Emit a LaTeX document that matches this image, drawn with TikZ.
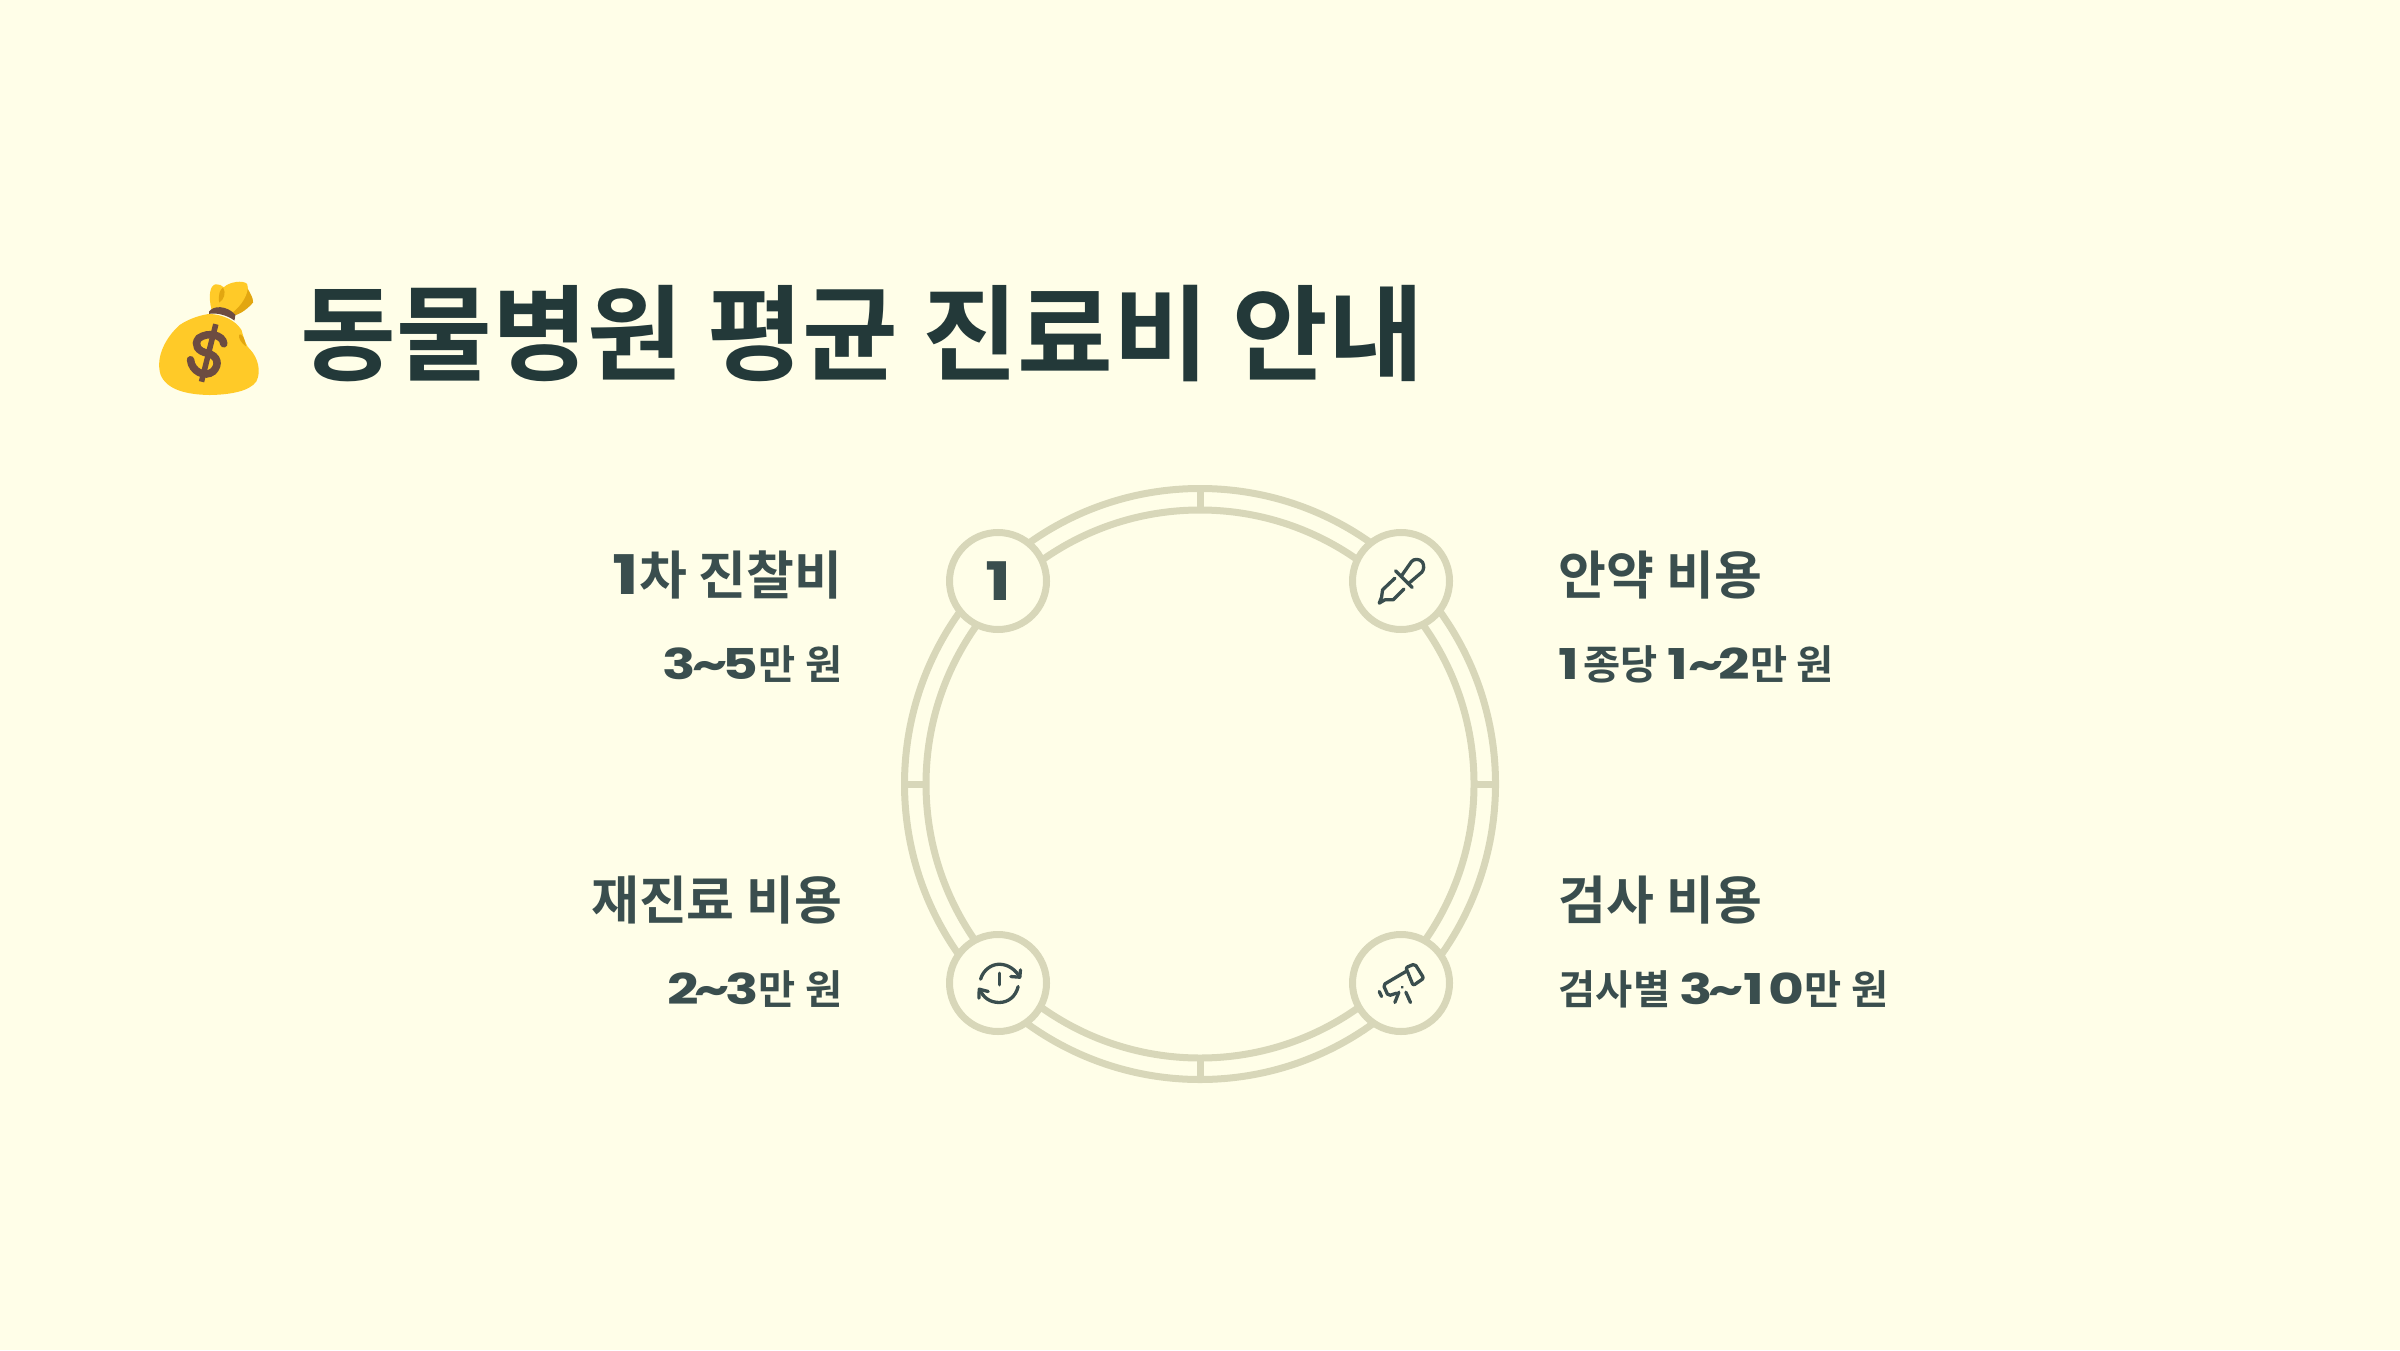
\documentclass[tikz,border=0pt]{standalone}
\usepackage{fontspec}
\setmainfont{Noto Sans CJK KR}[BoldFont={* Bold}]
\newfontfamily\numfont{Poppins}[FakeStretch=1.3,Scale=1.05,BoldFont={* Bold}]
\usetikzlibrary{positioning}
\definecolor{cream}{HTML}{FFFEE8}
\definecolor{ink}{HTML}{233939}
\definecolor{slate}{HTML}{3A4E4E}
\definecolor{sage}{HTML}{D8D7B9}
\definecolor{bag}{HTML}{FFCA28}
\definecolor{bagdark}{HTML}{E2A610}
\definecolor{tie}{HTML}{6D4C41}
\newcommand{\nm}[1]{{\numfont\bfseries #1}}
\newcommand{\tld}{\kern-0.1em\textasciitilde\kern-0.1em}
\tikzset{
  ringline/.style={draw=sage,line width=0.07cm},
  badge/.style={circle,draw=sage,line width=0.07cm,fill=cream,minimum size=0.97cm,inner sep=0pt},
  glyph/.style={draw=slate,line width=0.033cm,line cap=round,line join=round},
  tiny/.style={x=0.00333cm,y=-0.00333cm},
  itemhead/.style={font=\fontsize{14.8pt}{18pt}\selectfont\bfseries,text=slate,inner sep=0pt},
  itemsub/.style={font=\fontsize{11.5pt}{15pt}\selectfont\bfseries,text=slate,inner sep=0pt}
}
\begin{document}
\begin{tikzpicture}[x=1cm,y=1cm]
    \useasboundingbox[fill=cream] (0,0) rectangle (24,13.5);
    % money bag
    \begin{scope}[shift={(1.30,11.0)},tiny]
      \fill[bagdark] (300,190) -- (345,100) .. controls (358,125) and (372,145) .. (370,158) .. controls (355,175) and (335,192) .. (310,198) -- cycle;
      \fill[bag] (245,178) .. controls (235,140) and (240,105) .. (258,103) .. controls (268,103) and (276,106) .. (282,112) .. controls (300,95) and (340,90) .. (352,102) .. controls (362,125) and (335,170) .. (305,190) -- cycle;
      \fill[bagdark] (268,158) .. controls (265,135) and (270,118) .. (280,113) .. controls (290,130) and (282,150) .. (268,158) -- cycle;
      \fill[bag] (240,192) .. controls (280,195) and (315,210) .. (335,240) .. controls (345,275) and (350,290) .. (362,300) .. controls (385,325) and (395,365) .. (380,395) .. controls (360,425) and (300,435) .. (240,436) .. controls (170,435) and (110,420) .. (92,375) .. controls (75,320) and (110,260) .. (150,225) .. controls (180,205) and (215,195) .. (240,192) -- cycle;
      \fill[bagdark] (328,255) .. controls (335,248) and (345,265) .. (349,290) .. controls (335,280) and (325,265) .. (328,255) -- cycle;
      \fill[tie] (238,185) .. controls (250,167) and (290,165) .. (317,195) -- (314,212) .. controls (290,195) and (260,188) .. (238,192) -- cycle;
      \draw[tie,line width=0.055cm] (258,223) -- (215,396);
      \draw[tie,line width=0.075cm,line cap=round] (282,282) .. controls (280,255) and (235,245) .. (207,265) .. controls (190,285) and (205,305) .. (232,310) .. controls (265,318) and (270,345) .. (250,365) .. controls (225,385) and (185,365) .. (182,330);
    \end{scope}
    \node[anchor=base west,inner sep=0pt,text=ink,font=\fontsize{29.6pt}{34pt}\selectfont\bfseries] (title) at (3.0,9.775) {동물병원 평균 진료비 안내};
    % ring
    \coordinate (hub) at (12,5.66);
    \draw[ringline] (hub) circle (2.955);
    \draw[ringline] (hub) circle (2.74);
    \foreach \a in {0,90,180,270}
      \draw[ringline] (hub)+(\a:2.74) -- +(\a:2.955);
    \node[badge] (first) at (9.98,7.69) {};
    \node[badge] (drug) at (14.01,7.69) {};
    \node[badge] (exam) at (14.01,3.67) {};
    \node[badge] (again) at (9.98,3.67) {};
    \node[text=slate,font=\fontsize{14.4pt}{18pt}\selectfont\numfont\bfseries,inner sep=0pt] (one) at (first) {1};
    % dropper
    \begin{scope}[shift={(13.30,8.40)},tiny]
      \draw[glyph] (217,195) -- (245,155) .. controls (252,146) and (270,146) .. (278,157) .. controls (284,168) and (282,180) .. (276,187) -- (235,222);
      \draw[glyph] (197,183) -- (247,233);
      \draw[glyph] (195,205) -- (158,240) -- (155,262) -- (148,280) -- (165,270) -- (190,270) -- (222,238);
    \end{scope}
    % telescope
    \begin{scope}[shift={(13.30,4.35)},tiny]
      \draw[glyph,rounded corners=0.02cm] (228,170) -- (160,210) -- (175,243) -- (200,235);
      \draw[glyph,rounded corners=0.02cm] (228,158) -- (255,147) -- (282,190) -- (250,212) -- cycle;
      \draw[glyph] (217,217) circle (0.055);
      \draw[glyph] (207,232) -- (195,263);
      \draw[glyph] (228,232) -- (242,263);
      \draw[glyph] (148,230) -- (155,245);
    \end{scope}
    % refresh
    \begin{scope}[shift={(9.30,4.35)},tiny]
      \draw[glyph] (152,193) .. controls (160,165) and (185,148) .. (208,148) .. controls (235,148) and (258,165) .. (270,187);
      \draw[glyph] (265,215) .. controls (258,245) and (235,263) .. (208,263) .. controls (180,263) and (160,248) .. (150,225);
      \draw[glyph] (272,165) -- (270,187) -- (243,185);
      \draw[glyph] (147,250) -- (148,223) -- (175,230);
      \draw[glyph] (208,175) -- (208,210);
      \fill[slate] (208,232) circle (0.02);
    \end{scope}
    % labels, left side
    \node[itemhead,anchor=base east] (firsthead) at (8.43,7.56) {\nm{1}차 진찰비};
    \node[itemsub,anchor=base east] (firstsub) at (8.43,6.71) {\nm{3\tld5}만 원};
    \node[itemhead,anchor=base east] (againhead) at (8.43,4.31) {재진료 비용};
    \node[itemsub,anchor=base east] (againsub) at (8.43,3.46) {\nm{2\tld3}만 원};
    % labels, right side
    \node[itemhead,anchor=base west] (drughead) at (15.58,7.56) {안약 비용};
    \node[itemsub,anchor=base west] (drugsub) at (15.58,6.71) {\nm{1\kern0.1em}종당 \nm{1\kern0.1em\tld2}만 원};
    \node[itemhead,anchor=base west] (examhead) at (15.58,4.31) {검사 비용};
    \node[itemsub,anchor=base west] (examsub) at (15.58,3.46) {검사별 \nm{3\tld\kern0.1em1\kern0.1em0}만 원};
\end{tikzpicture}
\end{document}
